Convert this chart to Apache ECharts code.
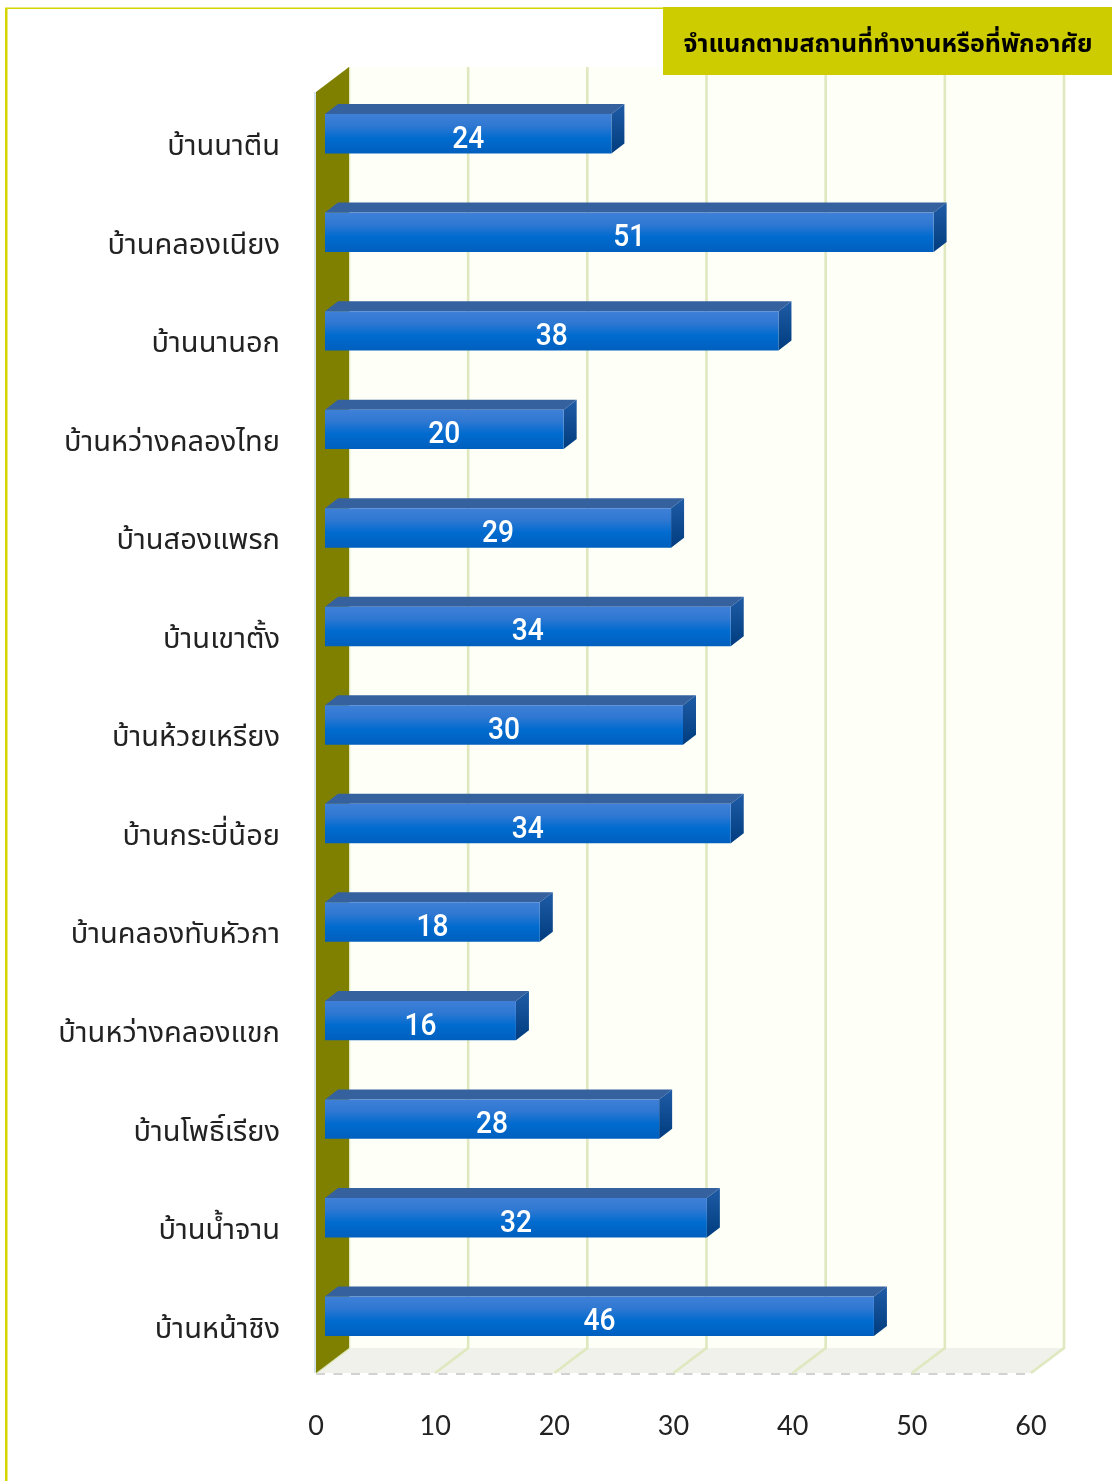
<!DOCTYPE html>
<html>
<head>
<meta charset="utf-8">
<style>
  html, body { margin: 0; padding: 0; background: #fff; }
  #chart { width: 1112px; height: 1481px; }
</style>
<script src="https://cdn.jsdelivr.net/npm/echarts@6/dist/echarts.min.js"></script>
</head>
<body>
<div id="chart"></div>
<script>
const titleText = 'จำแนกตามสถานที่ทำงานหรือที่พักอาศัย';
const categories = ['บ้านนาตีน', 'บ้านคลองเนียง', 'บ้านนานอก', 'บ้านหว่างคลองไทย', 'บ้านสองแพรก', 'บ้านเขาตั้ง', 'บ้านห้วยเหรียง', 'บ้านกระบี่น้อย', 'บ้านคลองทับหัวกา', 'บ้านหว่างคลองแขก', 'บ้านโพธิ์เรียง', 'บ้านน้ำจาน', 'บ้านหน้าชิง'];
const values = [24, 51, 38, 20, 29, 34, 30, 34, 18, 16, 28, 32, 46];
const xTicks = [0, 10, 20, 30, 40, 50, 60];

const thaiFont = '"Noto Sans Thai", "Noto Sans Thai Looped", "Noto Sans", sans-serif';
const wallDX = 33, wallDY = 25;
const barDX = 13, barDY = 10;

const vGrad = (stops) => ({ type: 'linear', x: 0, y: 0, x2: 0, y2: 1, colorStops: stops.map(s => ({ offset: s[0], color: s[1] })) });

// left wall, back wall and floor, one item
const renderWalls = (params, api) => {
  const c = params.coordSys;
  const x0 = api.coord([xTicks[0], categories[0]])[0];
  const x1 = api.coord([xTicks[xTicks.length - 1], categories[0]])[0];
  const top = c.y, bottom = c.y + c.height;
  return {
    type: 'group',
    children: [
      { type: 'rect', shape: { x: x0 + wallDX, y: top - wallDY, width: x1 - x0, height: c.height }, style: { fill: '#fefff6' } },
      { type: 'polygon', shape: { points: [[x0, bottom], [x0 + wallDX, bottom - wallDY], [x1 + wallDX, bottom - wallDY], [x1, bottom]] }, style: { fill: '#f0f1ea' } },
      { type: 'line', shape: { x1: x0 - 1, y1: top, x2: x0 - 1, y2: bottom }, style: { stroke: '#d5e3ea', lineWidth: 2 } },
      { type: 'line', shape: { x1: x0, y1: bottom + 1, x2: x1, y2: bottom + 1 }, style: { stroke: '#d2d2d2', lineWidth: 2, lineDash: [9, 8.5] } }
    ]
  };
};

// one gridline per tick: back wall plus floor diagonal
const renderGridline = (params, api) => {
  const c = params.coordSys;
  const x = api.coord([api.value(0), categories[0]])[0];
  const top = c.y, bottom = c.y + c.height;
  return {
    type: 'polyline',
    shape: { points: [[x + wallDX, top - wallDY], [x + wallDX, bottom - wallDY], [x, bottom]] },
    style: { stroke: '#dfe8bf', lineWidth: 2.6, fill: 'none' }
  };
};

const renderLeftWall = (params, api) => {
  const c = params.coordSys;
  const x0 = api.coord([xTicks[0], categories[0]])[0];
  const top = c.y, bottom = c.y + c.height;
  return {
    type: 'polygon',
    shape: { points: [[x0, top], [x0 + wallDX, top - wallDY], [x0 + wallDX, bottom - wallDY], [x0, bottom]] },
    style: { fill: '#808000' }
  };
};

const renderBar = (params, api) => {
  const cat = api.value(0), val = api.value(1);
  const start = api.coord([0, cat]);
  const end = api.coord([val, cat]);
  const h = api.size([0, 1])[1] * 0.4;
  const x0 = start[0], x1 = end[0], y0 = end[1] - h / 2, y1 = end[1] + h / 2;
  return {
    type: 'group',
    children: [
      { type: 'polygon', shape: { points: [[x0, y0], [x0 + barDX, y0 - barDY], [x1 + barDX, y0 - barDY], [x1, y0]] }, style: { fill: '#36619f' } },
      { type: 'polygon', shape: { points: [[x1, y0], [x1 + barDX, y0 - barDY], [x1 + barDX, y1 - barDY], [x1, y1]] },
        style: { fill: vGrad([[0, '#1f5ca6'], [1, '#003c7e']]) } },
      { type: 'rect', shape: { x: x0, y: y0, width: x1 - x0, height: h },
        style: { fill: vGrad([[0, '#3f80d8'], [0.3, '#2f78d2'], [0.62, '#006bcf'], [1, '#005fbe']]) } },
      { type: 'text', x: (x0 + x1) / 2, y: end[1] + 6, scaleX: 0.88,
        style: { text: String(val), fill: '#fff', font: '500 32px Roboto, sans-serif', align: 'center', verticalAlign: 'middle' } }
    ]
  };
};

const chart = echarts.init(document.getElementById('chart'), null, { renderer: 'canvas' });
chart.setOption({
  animation: false,
  backgroundColor: '#fff',
  grid: [
    { left: 316, top: 92, width: 715, height: 1281 },
    { left: 325, top: 84.5, width: 716, height: 1281 },
    // only carries the category labels, they sit a little below the bars
    { left: 316, top: 100, width: 715, height: 1281 }
  ],
  xAxis: [
    { type: 'value', gridIndex: 0, min: 0, max: 60, interval: 10,
      axisLine: { show: false }, axisTick: { show: false }, splitLine: { show: false },
      axisLabel: { margin: 40, fontFamily: 'Lato, sans-serif', fontSize: 27, color: '#222' } },
    { type: 'value', gridIndex: 1, min: 0, max: 60, show: false },
    { type: 'value', gridIndex: 2, min: 0, max: 60, show: false }
  ],
  yAxis: [
    { type: 'category', gridIndex: 0, inverse: true, data: categories, show: false },
    { type: 'category', gridIndex: 1, inverse: true, data: categories, show: false },
    { type: 'category', gridIndex: 2, inverse: true, data: categories,
      axisLine: { show: false }, axisTick: { show: false },
      axisLabel: { margin: 36, fontFamily: thaiFont, fontSize: 29, color: '#222', align: 'right' } }
  ],
  series: [
    { type: 'custom', name: 'walls', xAxisIndex: 0, yAxisIndex: 0, z: 1, silent: true, clip: false, renderItem: renderWalls, data: [[0, 0]], encode: { x: 0 } },
    { type: 'custom', name: 'gridlines', xAxisIndex: 0, yAxisIndex: 0, z: 2, silent: true, clip: false, renderItem: renderGridline, data: xTicks.map(t => [t]), encode: { x: 0 } },
    { type: 'custom', name: 'leftWall', xAxisIndex: 0, yAxisIndex: 0, z: 3, silent: true, clip: false, renderItem: renderLeftWall, data: [[0, 0]], encode: { x: 0 } },
    { type: 'custom', name: 'values', xAxisIndex: 1, yAxisIndex: 1, z: 4, clip: false, renderItem: renderBar,
      data: values.map((v, i) => [i, v]), encode: { y: 0, x: 1 } }
  ],
  graphic: [
    { type: 'rect', z: 100, shape: { x: 5, y: 7.5, width: 660, height: 1.5 }, style: { fill: '#d4d400' } },
    { type: 'rect', z: 100, shape: { x: 5, y: 8, width: 2.5, height: 1473 }, style: { fill: '#d4d400' } },
    { type: 'rect', z: 100, shape: { x: 663, y: 7, width: 449, height: 68 }, style: { fill: '#cccc00' } },
    { type: 'text', z: 101, x: 888, y: 47, style: { text: titleText, fill: '#000', font: 'bold 25px ' + thaiFont, align: 'center', verticalAlign: 'middle' } }
  ]
});
</script>
</body>
</html>
